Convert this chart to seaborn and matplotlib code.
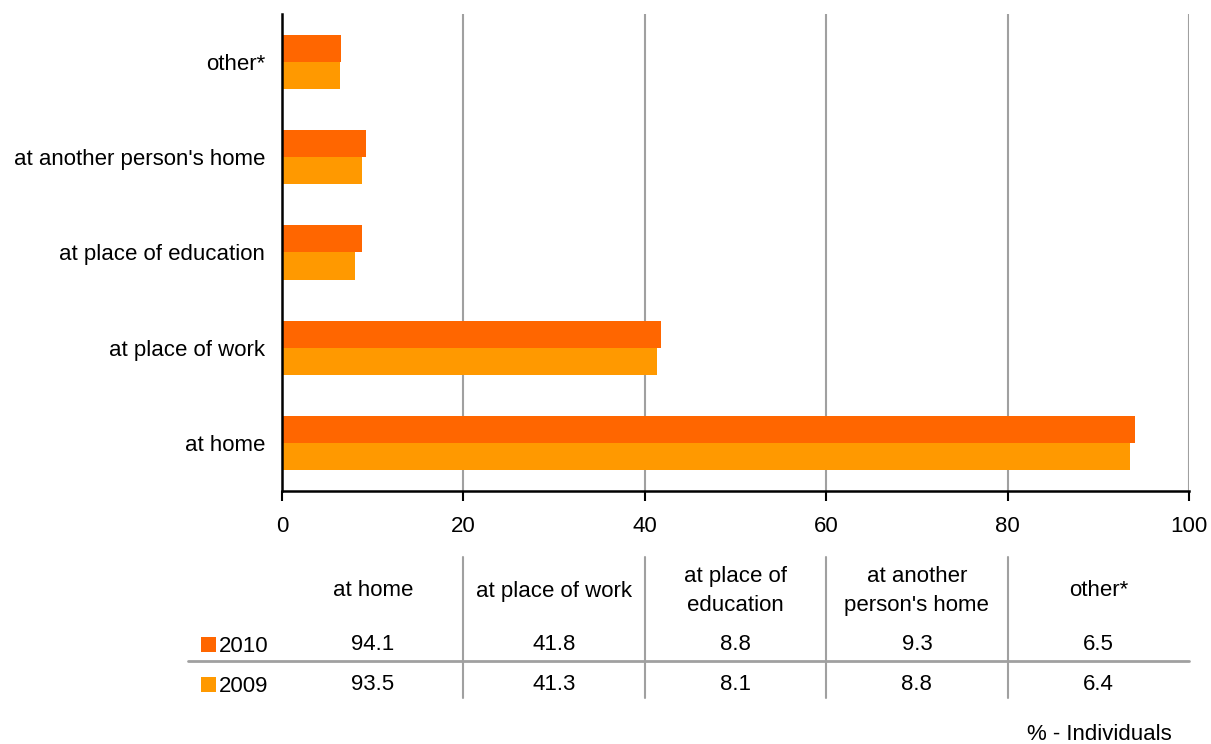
import matplotlib
matplotlib.use("Agg")
import matplotlib.pyplot as plt
import matplotlib.transforms as mtransforms
import seaborn as sns
import pandas as pd

categories = ["other*", "at another person's home", "at place of education",
              "at place of work", "at home"]
values_2010 = [6.5, 9.3, 8.8, 41.8, 94.1]
values_2009 = [6.4, 8.8, 8.1, 41.3, 93.5]
years = ["2010", "2009"]
table_headers = ["at home", "at place of work", "at place of\neducation",
                 "at another\nperson's home", "other*"]
table_2010 = ["94.1", "41.8", "8.8", "9.3", "6.5"]
table_2009 = ["93.5", "41.3", "8.1", "8.8", "6.4"]
x_ticks = [0, 20, 40, 60, 80, 100]
colors = {"2010": "#FF6600", "2009": "#FF9900"}

sns.set_theme(style="white")
plt.rcParams['font.family'] = ['Liberation Sans', 'DejaVu Sans']
plt.rcParams['text.color'] = 'black'
FS = 16

df = pd.DataFrame({
    "category": categories * 2,
    "value": values_2010 + values_2009,
    "year": ["2010"] * len(categories) + ["2009"] * len(categories),
})

W, H = 1211, 744
fig = plt.figure(figsize=(W / 100, H / 100), dpi=100)
ax = fig.add_axes([282 / W, 1 - 491 / H, (1189 - 282) / W, (491 - 14) / H])

sns.barplot(data=df, y="category", x="value", hue="year", order=categories,
            hue_order=years, palette=colors, orient="h", width=0.57,
            saturation=1, ax=ax, legend=False, linewidth=0)

ax.set_xlim(0, 100)
ax.set_ylim(4.5, -0.5)
ax.set_xticks(x_ticks)
ax.set_xticklabels([str(t) for t in x_ticks], fontsize=FS, color="black")
ax.set_xlabel("")
ax.set_ylabel("")
ax.tick_params(axis="y", which="major", length=0, labelsize=FS, pad=12, labelcolor="black")
ax.set_yticks([0.5, 1.5, 2.5, 3.5, 4.5], minor=True)
ax.tick_params(axis="y", which="minor", length=7, width=1.5, color="black", direction="out")
ax.tick_params(axis="x", which="major", length=7, width=1.5, color="black",
               direction="out", pad=11, bottom=True)
for s in ["top", "right"]:
    ax.spines[s].set_visible(False)
for s in ["left", "bottom"]:
    ax.spines[s].set_color("black")
    ax.spines[s].set_linewidth(1.8)
for t in x_ticks[1:]:
    ax.axvline(t, color="#a0a0a0", lw=1.5, zorder=0)
ax.set_axisbelow(True)

# Data table
trans = mtransforms.blended_transform_factory(ax.transData, fig.transFigure)
def fy(py):
    return 1 - py / H

centers = [10, 30, 50, 70, 90]
for cx, h, a, b in zip(centers, table_headers, table_2010, table_2009):
    ax.text(cx, fy(591), h, transform=trans, ha="center", va="center",
            fontsize=FS, linespacing=1.45, clip_on=False, color="black")
    ax.text(cx, fy(644), a, transform=trans, ha="center", va="center",
            fontsize=FS, clip_on=False, color="black")
    ax.text(cx, fy(684), b, transform=trans, ha="center", va="center",
            fontsize=FS, clip_on=False, color="black")
for xv in [20, 40, 60, 80]:
    ax.plot([xv, xv], [fy(557), fy(698)], transform=trans, color="#a0a0a0",
            lw=1.5, clip_on=False)
fig.add_artist(plt.Line2D([188 / W, 1189 / W], [fy(661), fy(661)],
                          color="#a0a0a0", lw=2))
for yr, py in zip(years, [644, 684]):
    fig.add_artist(plt.Rectangle((201 / W, fy(py + 8)), 15 / W, 15 / H,
                                 color=colors[yr], lw=0))
    fig.text(219 / W, fy(py + 2), yr, ha="left", va="center", fontsize=FS, color="black")

fig.text(1172 / W, fy(734), "% - Individuals", ha="right", va="center", fontsize=FS, color="black")

fig.savefig("out.png", dpi=100)
